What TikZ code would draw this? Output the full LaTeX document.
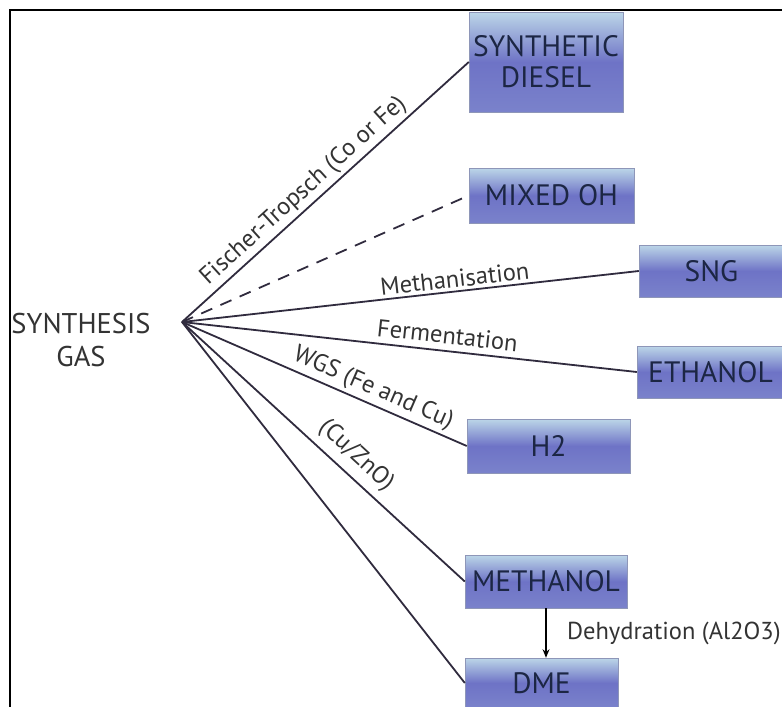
\documentclass[tikz,border=0pt]{standalone}
\usepackage{fontspec}
\setmainfont{PT Sans}
\usetikzlibrary{arrows.meta,positioning}
\definecolor{boxtop}{HTML}{BCD6E8}
\definecolor{boxmid}{HTML}{6E73C6}
\definecolor{boxbot}{HTML}{7A82CB}
\definecolor{boxedge}{HTML}{8E96B8}
\definecolor{boxtxt}{HTML}{1C2644}
\definecolor{linecol}{HTML}{302B3E}
\definecolor{labtxt}{HTML}{333333}

\begin{document}
\begin{tikzpicture}[
    x=1pt, y=-1pt,
    prod/.style={rectangle, draw=boxedge, top color=boxtop, bottom color=boxbot, middle color=boxmid, text=boxtxt, inner sep=0pt, align=center, font=\fontsize{29.5}{31}\selectfont},
    route/.style={line width=1.8pt, draw=linecol},
    lbl/.style={font=\fontsize{24.5}{26}\selectfont, text=labtxt, sloped, above, inner sep=3pt},
    arr/.style={-{Stealth[length=3mm, width=2.4mm]}, line width=1.5pt, draw=black}
  ]
    \useasboundingbox (0,0) rectangle (782,707);
    \draw[line width=2pt] (782,10) -- (10,10) -- (10,707);

    % feed
    \node[font=\fontsize{28.5}{33}\selectfont, text=labtxt, align=center] (syngas) at (81,340) {SYNTHESIS\\GAS};
    \coordinate (src) at (182,322);

    % products
    \node[prod, minimum width=154pt, minimum height=100pt] (diesel) at (546,62) {SYNTHETIC\\DIESEL};
    \node[prod, minimum width=165pt, minimum height=55pt] (mixed) at (551.5,195.5) {MIXED OH};
    \node[prod, minimum width=145pt, minimum height=52pt] (sng) at (711.5,271) {SNG};
    \node[prod, minimum width=147pt, minimum height=52pt] (ethanol) at (710.5,372) {ETHANOL};
    \node[prod, minimum width=163pt, minimum height=54pt] (h2) at (548.5,446) {H2};
    \node[prod, minimum width=162pt, minimum height=53pt] (methanol) at (546,581.5) {METHANOL};
    \node[prod, minimum width=153pt, minimum height=50pt] (dme) at (541.5,683) {DME};

    % routes
    \draw[route] (src) -- node[lbl, pos=0.46] {Fischer-Tropsch (Co or Fe)} (diesel.west);
    \draw[route, dash pattern=on 12pt off 9pt] (src) -- (mixed.west);
    \draw[route] (src) -- node[lbl, pos=0.6] {Methanisation} (sng.west);
    \draw[route] (src) -- node[lbl, pos=0.58, inner sep=6pt] {Fermentation} (ethanol.west);
    \draw[route] (src) -- node[lbl, pos=0.65] {WGS (Fe and Cu)} (h2.west);
    \draw[route] (src) -- node[lbl, pos=0.57, inner sep=7pt] {(Cu/ZnO)} (methanol.west);
    \draw[route] (src) -- (dme.west);

    \draw[arr] (methanol.south) -- node[right=17pt, font=\fontsize{24.5}{26}\selectfont, text=labtxt] (dehy) {Dehydration (Al2O3)} (methanol.south |- dme.north);
  \end{tikzpicture}
\end{document}
